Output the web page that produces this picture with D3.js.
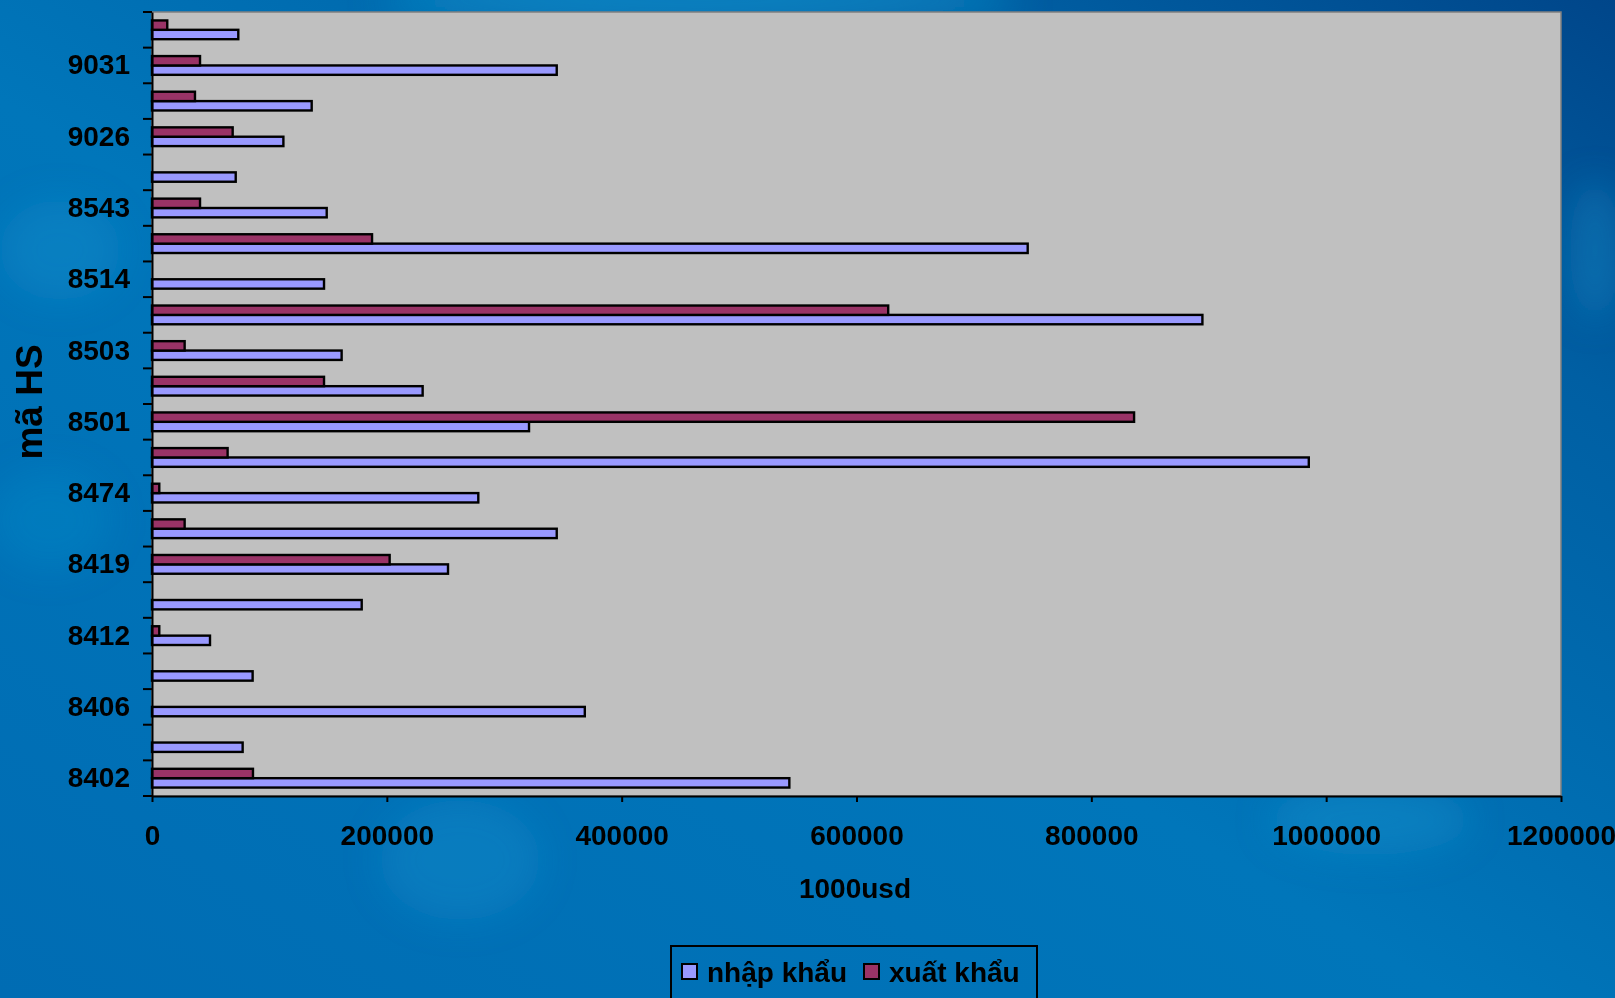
<!DOCTYPE html>
<html>
<head>
<meta charset="utf-8">
<script src="https://cdn.jsdelivr.net/npm/d3@7"></script>
<style>
  html, body { margin: 0; padding: 0; overflow: hidden; }
  svg { display: block; font-family: "Liberation Sans", Arial, sans-serif; }
</style>
</head>
<body>
<svg id="chart" width="1615" height="998"></svg>
<script>
// HS codes, listed from the bottom of the axis upward (only every other one is labelled)
const hsLabels = ["8402", "", "8406", "", "8412", "", "8419", "", "8474", "",
                  "8501", "", "8503", "", "8514", "", "8543", "", "9026", "", "9031", ""];

// Values in thousand USD, same order as hsLabels
const importValues = [542800, 77200, 368600, 85700, 49400, 178600, 252100, 344700, 277900, 985200,
                      321100, 230500, 161500, 894600, 146500, 745800, 148800, 71300, 111900, 136000, 344700, 73500];
const exportValues = [86000, null, null, null, 6200, null, 202400, 27800, 6200, 64400,
                      836400, 146500, 27800, 627000, null, 187400, 40900, null, 68700, 36600, 40900, 13000];

const xTickValues = [0, 200000, 400000, 600000, 800000, 1000000, 1200000];

const seriesNames = ["nhập khẩu", "xuất khẩu"];
const seriesColors = ["#9999ff", "#993366"];

const W = 1615, H = 998;
const plot = { left: 152, right: 1561, top: 12, bottom: 796 };
const FONT = "Liberation Sans, Arial, sans-serif";

const svg = d3.select("#chart");

// Background: blue gradient with a few faint lighter patches
const defs = svg.append("defs");
const bg = defs.append("linearGradient").attr("id", "bg")
  .attr("x1", "0").attr("y1", "1").attr("x2", "1").attr("y2", "0");
bg.append("stop").attr("offset", "0").attr("stop-color", "#006cb3");
bg.append("stop").attr("offset", "0.45").attr("stop-color", "#0076ba");
bg.append("stop").attr("offset", "0.8").attr("stop-color", "#005fa3");
bg.append("stop").attr("offset", "1").attr("stop-color", "#00468a");
const blur = defs.append("filter").attr("id", "soft").attr("x", "-50%").attr("y", "-50%")
  .attr("width", "200%").attr("height", "200%");
blur.append("feGaussianBlur").attr("stdDeviation", 18);

svg.append("rect").attr("width", W).attr("height", H).attr("fill", "url(#bg)");

const patches = svg.append("g").attr("filter", "url(#soft)").attr("fill", "#1aa0d8");
patches.append("ellipse").attr("cx", 700).attr("cy", 0).attr("rx", 320).attr("ry", 22).attr("opacity", 0.55);
patches.append("ellipse").attr("cx", 60).attr("cy", 250).attr("rx", 60).attr("ry", 50).attr("opacity", 0.25);
patches.append("ellipse").attr("cx", 50).attr("cy", 520).attr("rx", 60).attr("ry", 50).attr("opacity", 0.2);
patches.append("ellipse").attr("cx", 460).attr("cy", 860).attr("rx", 80).attr("ry", 60).attr("opacity", 0.25);
patches.append("ellipse").attr("cx", 1370).attr("cy", 820).attr("rx", 100).attr("ry", 35).attr("opacity", 0.3);
patches.append("ellipse").attr("cx", 1595).attr("cy", 250).attr("rx", 25).attr("ry", 70).attr("opacity", 0.3);

// Scales
const idx = d3.range(hsLabels.length);
const x = d3.scaleLinear().domain([0, 1200000]).range([plot.left, plot.right]);
const y = d3.scaleBand().domain(idx).range([plot.bottom, plot.top]);
const ySub = d3.scaleBand().domain(["export", "import"]).range([0, y.bandwidth()])
  .paddingInner(0).paddingOuter(0.9);

// Plot area
svg.append("rect")
  .attr("x", plot.left).attr("y", plot.top)
  .attr("width", plot.right - plot.left).attr("height", plot.bottom - plot.top)
  .attr("fill", "#c0c0c0").attr("stroke", "#808080").attr("stroke-width", 1.5);

// Bars
const rows = idx.map(i => ({ i, imp: importValues[i], exp: exportValues[i] }));
const barG = svg.append("g");
barG.selectAll("rect.imp").data(rows.filter(d => d.imp != null)).join("rect")
  .attr("class", "imp")
  .attr("x", x(0))
  .attr("y", d => y(d.i) + ySub("import"))
  .attr("width", d => x(d.imp) - x(0))
  .attr("height", ySub.bandwidth())
  .attr("fill", seriesColors[0]).attr("stroke", "#000").attr("stroke-width", 2.4);
barG.selectAll("rect.exp").data(rows.filter(d => d.exp != null)).join("rect")
  .attr("class", "exp")
  .attr("x", x(0))
  .attr("y", d => y(d.i) + ySub("export"))
  .attr("width", d => x(d.exp) - x(0))
  .attr("height", ySub.bandwidth())
  .attr("fill", seriesColors[1]).attr("stroke", "#000").attr("stroke-width", 2.4);

// X axis
const xAxis = svg.append("g")
  .attr("transform", `translate(0,${plot.bottom})`)
  .call(d3.axisBottom(x).tickValues(xTickValues).tickFormat(d3.format("d"))
    .tickSize(6).tickSizeOuter(0).tickPadding(23));
xAxis.select(".domain").attr("stroke", "#000").attr("stroke-width", 2);
xAxis.selectAll(".tick line").attr("stroke", "#000").attr("stroke-width", 2);
xAxis.selectAll(".tick text")
  .attr("font-family", FONT)
  .attr("font-size", 28).attr("font-weight", "bold").attr("fill", "#000");

// Y axis: labels at band centres, ticks at band boundaries
const yAxis = svg.append("g")
  .attr("transform", `translate(${plot.left},0)`)
  .call(d3.axisLeft(y).tickFormat(i => hsLabels[i]).tickSize(0).tickPadding(22));
yAxis.select(".domain").attr("stroke", "#000").attr("stroke-width", 2);
yAxis.selectAll(".tick text")
  .attr("font-family", FONT)
  .attr("font-size", 28).attr("font-weight", "bold").attr("fill", "#000");

const boundaries = idx.map(i => y(i) + y.bandwidth()).concat([y(idx.length - 1)]);
svg.append("g").selectAll("line").data(boundaries).join("line")
  .attr("x1", plot.left - 9).attr("x2", plot.left)
  .attr("y1", d => d).attr("y2", d => d)
  .attr("stroke", "#000").attr("stroke-width", 2);

// Axis titles
svg.append("text")
  .attr("x", 855).attr("y", 898)
  .attr("text-anchor", "middle")
  .attr("font-family", FONT)
  .attr("font-size", 28).attr("font-weight", "bold").attr("fill", "#000")
  .text("1000usd");

svg.append("text")
  .attr("transform", "translate(42,402) rotate(-90)")
  .attr("text-anchor", "middle")
  .attr("font-family", FONT)
  .attr("font-size", 37).attr("font-weight", "bold").attr("fill", "#000")
  .text("mã HS");

// Legend
const legend = svg.append("g");
legend.append("rect")
  .attr("x", 671).attr("y", 946).attr("width", 366).attr("height", 70)
  .attr("fill", "none").attr("stroke", "#000").attr("stroke-width", 2);
const legendItems = [
  { name: seriesNames[0], color: seriesColors[0], mx: 682, tx: 707 },
  { name: seriesNames[1], color: seriesColors[1], mx: 864, tx: 889 }
];
legendItems.forEach(it => {
  legend.append("rect")
    .attr("x", it.mx).attr("y", 964).attr("width", 15).attr("height", 15)
    .attr("fill", it.color).attr("stroke", "#000").attr("stroke-width", 2);
  legend.append("text")
    .attr("x", it.tx).attr("y", 982)
    .attr("font-family", FONT)
    .attr("font-size", 28).attr("font-weight", "bold").attr("fill", "#000")
    .text(it.name);
});
</script>
</body>
</html>
